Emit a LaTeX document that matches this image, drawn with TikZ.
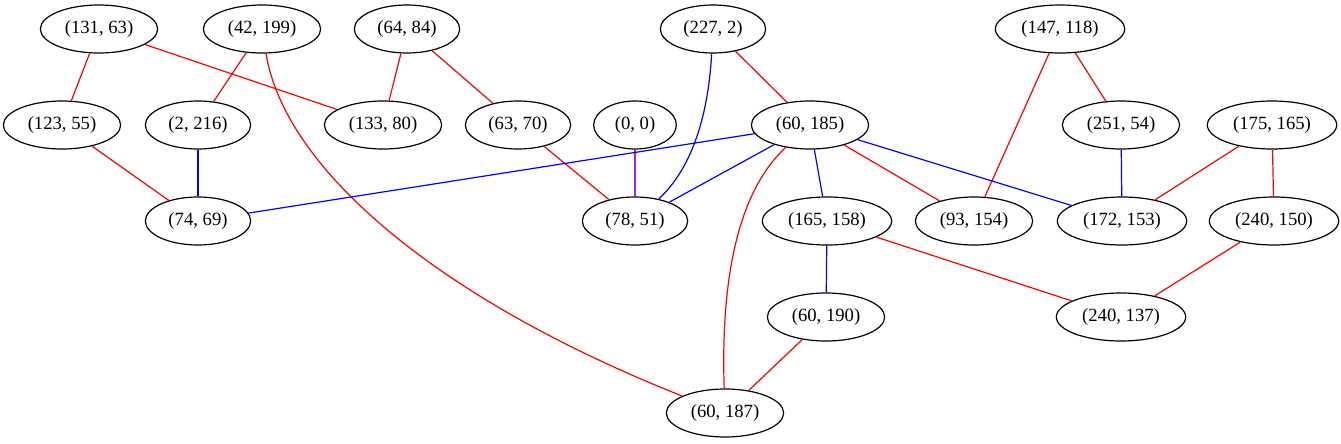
\documentclass[tikz,border=0pt]{standalone}
\usepackage{fontspec}
\setmainfont{Liberation Serif}
\usetikzlibrary{shapes.geometric}
\definecolor{gvred}{RGB}{255,0,0}
\definecolor{gvblue}{RGB}{0,0,255}
\definecolor{gvpurple}{RGB}{160,32,240}
\tikzset{
  gnode/.style={draw=black, line width=0.9pt, ellipse, inner sep=0pt, minimum height=36pt, font=\fontsize{14}{16}\selectfont},
  wtwo/.style={gnode, minimum width=62pt},
  wfour/.style={gnode, minimum width=79pt},
  wfive/.style={gnode, minimum width=88pt},
  wsix/.style={gnode, minimum width=97pt},
  ered/.style={draw=gvred, line width=0.9pt},
  eblue/.style={draw=gvblue, line width=0.9pt},
  epurple/.style={draw=gvpurple, line width=0.9pt},
}
\begin{document}
\begin{tikzpicture}[x=0.75pt, y=-0.75pt]
\useasboundingbox (0,0) rectangle (1341,443);
% row 1
\node[wfive] (a) at (99,29) {(131, 63)};
\node[wfive] (b) at (262,29) {(42, 199)};
\node[wfour] (c) at (407,29) {(64, 84)};
\node[wfour] (d) at (713,29) {(227, 2)};
\node[wsix]  (e) at (1060,29) {(147, 118)};
% row 2
\node[wfive] (f) at (62,125) {(123, 55)};
\node[wfour] (g) at (198,125) {(2, 216)};
\node[wfive] (h) at (383,125) {(133, 80)};
\node[wfour] (i) at (518,125) {(63, 70)};
\node[wtwo]  (j) at (635,125) {(0, 0)};
\node[wfive] (k) at (810,125) {(60, 185)};
\node[wfive] (l) at (1121,125) {(251, 54)};
\node[wsix]  (m) at (1272,125) {(175, 165)};
% row 3
\node[wfour] (n) at (198,221) {(74, 69)};
\node[wfour] (o) at (635,221) {(78, 51)};
\node[wsix]  (p) at (827,221) {(165, 158)};
\node[wfive] (q) at (974,221) {(93, 154)};
\node[wsix]  (r) at (1122,221) {(172, 153)};
\node[wsix]  (s) at (1274,221) {(240, 150)};
% row 4
\node[wfive] (t) at (826,317) {(60, 190)};
\node[wsix]  (u) at (1121,317) {(240, 137)};
% row 5
\node[wfive] (v) at (725,413) {(60, 187)};
% edges
\draw[ered] (a) -- (f);
\draw[ered] (a) -- (h);
\draw[ered] (b) -- (g);
\draw[ered] (b) .. controls (285,170) and (440,300) .. (v);
\draw[ered] (c) -- (h);
\draw[ered] (c) -- (i);
\draw[eblue] (d) .. controls (708,120) and (690,170) .. (o);
\draw[ered] (d) -- (k);
\draw[ered] (e) -- (q);
\draw[ered] (e) -- (l);
\draw[ered] (f) -- (n);
\draw[eblue] (g) -- (n);
\draw[ered] (i) -- (o);
\draw[epurple] (j) -- (o);
\draw[eblue] (k) -- (n);
\draw[eblue] (k) -- (o);
\draw[eblue] (k) -- (p);
\draw[ered] (k) -- (q);
\draw[eblue] (k) -- (r);
\draw[ered] (k) .. controls (745,185) and (720,260) .. (v);
\draw[eblue] (l) -- (r);
\draw[ered] (m) -- (r);
\draw[ered] (m) -- (s);
\draw[eblue] (p) -- (t);
\draw[ered] (p) -- (u);
\draw[ered] (s) -- (u);
\draw[ered] (t) -- (v);
\end{tikzpicture}
\end{document}
